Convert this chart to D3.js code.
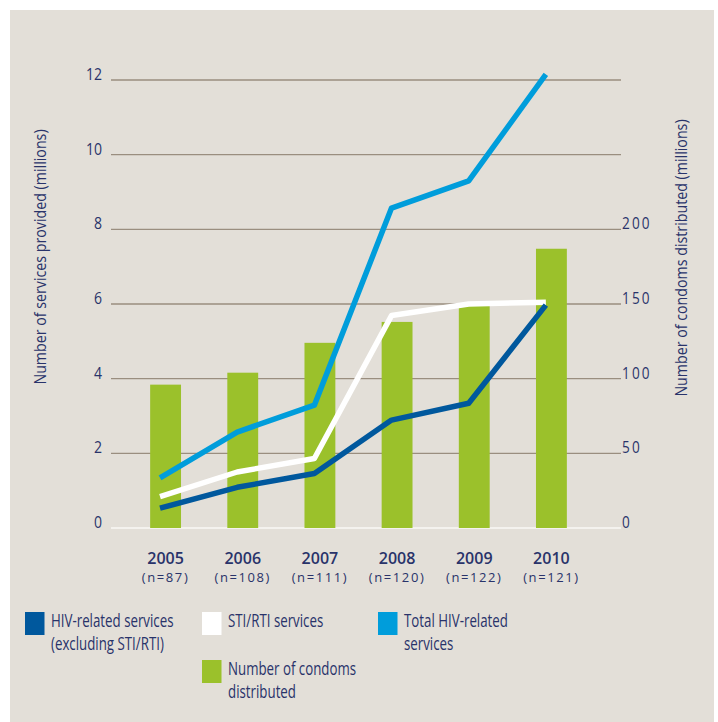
<!DOCTYPE html>
<html>
<head>
<meta charset="utf-8">
<script src="https://cdn.jsdelivr.net/npm/d3@7"></script>
<style>
  html, body { margin: 0; padding: 0; background: #fff; }
  svg { display: block; font-family: "Open Sans", "Liberation Sans", sans-serif; }
</style>
</head>
<body>
<div id="chart"></div>
<script>
'use strict';

var years       = ["2005", "2006", "2007", "2008", "2009", "2010"];
var sampleSizes = ["(n=87)", "(n=108)", "(n=111)", "(n=120)", "(n=122)", "(n=121)"];

// millions of services (left axis)
var hivExclSti  = [0.53, 1.09, 1.46, 2.89, 3.34, 5.97];
var stiRti      = [0.84, 1.50, 1.86, 5.69, 6.00, 6.05];
var totalHiv    = [1.34, 2.57, 3.29, 8.57, 9.30, 12.15];

// millions of condoms (right axis)
var condoms     = [96, 104, 124, 138, 149, 187];

var leftTicks   = [0, 2, 4, 6, 8, 10, 12];
var rightTicks  = [0, 50, 100, 150, 200];

var legendLabels = [
    ["HIV-related services", "(excluding STI/RTI)"],
    ["STI/RTI services"],
    ["Total HIV-related", "services"],
    ["Number of condoms", "distributed"]
];
var legendColors = ["#00589d", "#ffffff", "#009ddb", "#9bc12b"];

var W = 718, H = 722,
    textColor = "#29336a",
    gridColor = "#9a8e7f",
    plotLeft = 111, plotRight = 621;

var svg = d3.select("#chart").append("svg")
        .attr("width", W)
        .attr("height", H);

// beige panel
svg.append("rect")
        .attr("x", 10).attr("y", 10)
        .attr("width", 704).attr("height", H - 10)
        .attr("fill", "#e3dfd8");

var x = d3.scaleBand()
        .domain(years)
        .range([127, 590])
        .paddingInner(0.6)
        .paddingOuter(0.3);

var yLeft = d3.scaleLinear().domain([0, 12]).range([528, 80]);
var yRight = d3.scaleLinear().domain([0, 300]).range([528, 80]);

// grid lines
svg.append("g").selectAll("line")
        .data(leftTicks)
        .enter().append("line")
        .attr("x1", plotLeft)
        .attr("x2", plotRight)
        .attr("y1", function(d){return yLeft(d);})
        .attr("y2", function(d){return yLeft(d);})
        .attr("stroke", function(d){return d === 0 ? "#f4f2ee" : gridColor;})
        .attr("stroke-width", function(d){return d === 0 ? 2 : 1.3;});

// the original uses a condensed face, so Open Sans gets squeezed with scale(k,1)

// left tick labels
svg.append("g").selectAll("text")
        .data(leftTicks)
        .enter().append("text")
        .attr("transform", function(d){return "translate(102," + yLeft(d) + ") scale(0.85,1)";})
        .attr("text-anchor", "end")
        .attr("fill", textColor)
        .style("font-size", "16.5px")
        .text(function(d){return d;});

// right tick labels
svg.append("g").selectAll("text")
        .data(rightTicks)
        .enter().append("text")
        .attr("transform", function(d){return "translate(622," + yRight(d) + ") scale(0.85,1)";})
        .attr("fill", textColor)
        .style("font-size", "16px")
        .style("letter-spacing", "2.5px")
        .text(function(d){return d;});

// axis titles
svg.append("text")
        .attr("transform", "translate(46,257) rotate(-90) scale(0.89,1)")
        .attr("text-anchor", "middle")
        .attr("fill", textColor)
        .style("font-size", "16px")
        .text("Number of services provided (millions)");

svg.append("text")
        .attr("transform", "translate(687,258) rotate(-90) scale(0.89,1)")
        .attr("text-anchor", "middle")
        .attr("fill", textColor)
        .style("font-size", "16px")
        .text("Number of condoms distributed (millions)");

// condom bars
svg.append("g").selectAll("rect")
        .data(condoms)
        .enter().append("rect")
        .attr("x", function(d, i){return x(years[i]);})
        .attr("y", function(d){return yRight(d);})
        .attr("width", x.bandwidth())
        .attr("height", function(d){return yRight(0) - yRight(d);})
        .attr("fill", legendColors[3]);

// lines, drawn a bit left of bar centre like the original
var line = d3.line()
        .x(function(d, i){return x(years[i]) + x.bandwidth() * 0.32;})
        .y(function(d){return yLeft(d);});

[[stiRti, legendColors[1]], [hivExclSti, legendColors[0]], [totalHiv, legendColors[2]]]
    .forEach(function(s){
        svg.append("path")
                .datum(s[0])
                .attr("d", line)
                .attr("fill", "none")
                .attr("stroke", s[1])
                .attr("stroke-width", 5.5)
                .attr("stroke-linejoin", "round");
    });

// x labels
var xl = svg.append("g");
xl.selectAll("text.year")
        .data(years)
        .enter().append("text")
        .attr("class", "year")
        .attr("x", function(d){return x(d) + x.bandwidth()/2;})
        .attr("y", 564)
        .attr("text-anchor", "middle")
        .attr("fill", textColor)
        .style("font-size", "16px")
        .style("font-weight", 600)
        .text(function(d){return d;});
xl.selectAll("text.n")
        .data(sampleSizes)
        .enter().append("text")
        .attr("class", "n")
        .attr("x", function(d, i){return x(years[i]) + x.bandwidth()/2;})
        .attr("y", 581.5)
        .attr("text-anchor", "middle")
        .attr("fill", textColor)
        .style("font-size", "13px")
        .style("letter-spacing", "1.6px")
        .text(function(d){return d;});

// legend: 3 columns, second row only in middle column
var legendPos = [[25, 612], [202, 612], [378, 612], [202, 660]];
var lg = svg.append("g")
        .selectAll("g")
        .data(legendLabels)
        .enter().append("g")
        .attr("transform", function(d, i){return "translate(" + legendPos[i][0] + "," + legendPos[i][1] + ")";});

lg.append("rect")
        .attr("width", 19.5)
        .attr("height", 23)
        .attr("fill", function(d, i){return legendColors[i];});

lg.append("text")
        .attr("transform", "translate(26,0) scale(0.76,1)")
        .attr("fill", textColor)
        .style("font-size", "17.5px")
        .selectAll("tspan")
        .data(function(d){return d;})
        .enter().append("tspan")
        .attr("x", 0)
        .attr("y", function(d, i){return 15 + i * 23.5;})
        .text(function(d){return d;});
</script>
</body>
</html>
